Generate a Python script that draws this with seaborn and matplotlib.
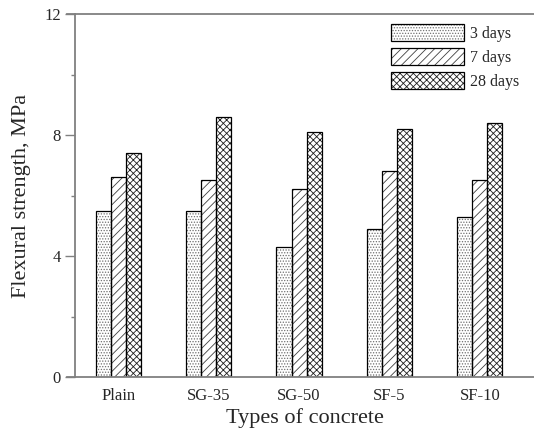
import pandas as pd
import numpy as np
import matplotlib
matplotlib.use('Agg')
import matplotlib.pyplot as plt
import seaborn as sns
from matplotlib.legend_handler import HandlerTuple
from matplotlib.ticker import MultipleLocator

# Data
concrete_types = ['Plain', 'SG-35', 'SG-50', 'SF-5', 'SF-10']
ages = ['3 days', '7 days', '28 days']
strength_3d = [5.5, 5.5, 4.3, 4.9, 5.3]
strength_7d = [6.6, 6.5, 6.2, 6.8, 6.5]
strength_28d = [7.4, 8.6, 8.1, 8.2, 8.4]

df = pd.DataFrame({
    'type': concrete_types * 3,
    'age': [a for a in ages for _ in concrete_types],
    'strength': strength_3d + strength_7d + strength_28d,
})

sns.set_style('ticks')
plt.rcParams['font.family'] = ['Liberation Serif', 'DejaVu Serif']
plt.rcParams['hatch.linewidth'] = 0.6

fig = plt.figure(figsize=(5.34, 4.33), dpi=100)
ax = fig.add_axes([75 / 534, 56 / 433, 459 / 534, 363 / 433])

hatches = ['......', '////', 'xxxxx']
hatch_colors = ['#707070', '#404040', '#202020']

# hatched fill pass
sns.barplot(data=df, x='type', y='strength', hue='age', order=concrete_types,
            hue_order=ages, palette=['white'] * 3, width=0.5, gap=0,
            errorbar=None, linewidth=0, legend=False, ax=ax)
for cont, h, hc in zip(ax.containers[:3], hatches, hatch_colors):
    for p in cont:
        p.set_hatch(h)
        p.set_edgecolor(hc)
        p.set_linewidth(0)

# outline pass
sns.barplot(data=df, x='type', y='strength', hue='age', order=concrete_types,
            hue_order=ages, palette=['black'] * 3, saturation=1, fill=False,
            width=0.5, gap=0, errorbar=None, linewidth=0.9, legend=False, ax=ax)

ax.set_xlim(-0.48, 4.6)
ax.set_ylim(0, 12)
ax.yaxis.set_major_locator(MultipleLocator(4))
ax.yaxis.set_minor_locator(MultipleLocator(2))
ax.tick_params(axis='y', which='major', length=7, width=1, color='#808080',
               labelsize=12, pad=3)
ax.tick_params(axis='y', which='minor', length=3, width=1, color='#808080')
ax.tick_params(axis='x', length=0, labelsize=12, pad=8)

for side in ['left', 'bottom', 'top']:
    ax.spines[side].set_color('#808080')
    ax.spines[side].set_linewidth(1.3)
ax.spines['right'].set_visible(False)
ax.spines['bottom'].set_bounds(-0.57, 4.6)
ax.spines['top'].set_bounds(-0.57, 4.6)

ax.set_xlabel('Types of concrete', fontsize=16, labelpad=3)
ax.set_ylabel('Flexural strength, MPa', fontsize=16, labelpad=10)

handles = [(ax.containers[i][0], ax.containers[i + 3][0]) for i in range(3)]
ax.legend(handles, ages, handler_map={tuple: HandlerTuple(ndivide=1)},
          loc='upper left', bbox_to_anchor=(0.667, 1.0), frameon=False,
          fontsize=11.5, handlelength=4.6, handleheight=1.3, labelspacing=0.38,
          handletextpad=0.35, borderaxespad=0.2)

fig.savefig('out.png', dpi=100)
